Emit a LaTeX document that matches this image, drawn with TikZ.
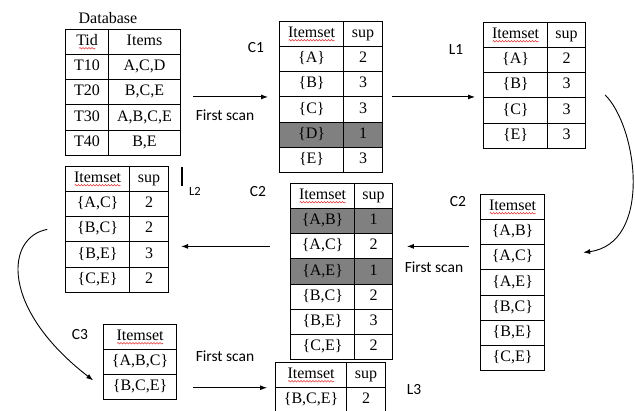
\documentclass[tikz,border=0pt]{standalone}
\usepackage{fontspec}
\setmainfont{Liberation Serif}
\newfontfamily\lblfont{Carlito}
\usetikzlibrary{arrows.meta,matrix,calc,decorations.pathmorphing}
\definecolor{DropGray}{RGB}{128,128,128}
\definecolor{SpellRed}{RGB}{225,45,45}
\newcommand{\tblfont}{\fontsize{16}{18}\selectfont}
\newcommand{\capfont}{\lblfont\fontsize{15.5}{17}\selectfont}

\begin{document}
\begin{tikzpicture}[x=1pt,y=-1pt,>={Latex[length=7pt,width=5pt]},
    tbl/.style={matrix of nodes,inner sep=0pt,row sep=-0.9pt,column sep=-0.9pt,
      anchor=north west,
      nodes={draw,line width=0.9pt,minimum height=25.1pt,inner sep=0pt,
        text height=11pt,text depth=3.8pt,font=\tblfont}},
    cols/.style 2 args={column 1/.style={nodes={minimum width=#1}},
      column 2/.style={nodes={minimum width=#2}}},
    drop/.style={fill=DropGray},
    tag/.style={font=\capfont},
    flow/.style={->,line width=0.9pt},
    spell/.style={draw=SpellRed,line width=0.5pt,decorate,
      decoration={snake,amplitude=0.8pt,segment length=3pt}}]
  \useasboundingbox (0,0) rectangle (635,411);

  % transactions and the first pass
  \node[font=\tblfont] (dblbl) at (108,18) {Database};
  \matrix[tbl,cols={42.9pt}{71.9pt}] (db) at (65,29) {
    Tid & Items \\
    T10 & A,C,D \\
    T20 & B,C,E \\
    T30 & A,B,C,E \\
    T40 & B,E \\
  };
  \node[tag] (c1lbl) at (256,48) {C1};
  \matrix[tbl,cols={63.9pt}{38.9pt}] (c1) at (279,21) {
    Itemset & sup \\
    \{A\} & 2 \\
    \{B\} & 3 \\
    \{C\} & 3 \\
    |[drop]| \{D\} & |[drop]| 1 \\
    \{E\} & 3 \\
  };
  \node[tag] (l1lbl) at (456,50) {L1};
  \matrix[tbl,cols={63.9pt}{37.9pt}] (l1) at (483,22) {
    Itemset & sup \\
    \{A\} & 2 \\
    \{B\} & 3 \\
    \{C\} & 3 \\
    \{E\} & 3 \\
  };

  % pairs
  \node[tag] (c2lbl) at (458,202) {C2};
  \matrix[tbl,cols={63.9pt}{0pt}] (c2) at (480,194) {
    Itemset \\
    \{A,B\} \\
    \{A,C\} \\
    \{A,E\} \\
    \{B,C\} \\
    \{B,E\} \\
    \{C,E\} \\
  };
  \node[tag] (c2suplbl) at (258,192) {C2};
  \matrix[tbl,cols={63.9pt}{37.9pt}] (c2sup) at (290,183) {
    Itemset & sup \\
    |[drop]| \{A,B\} & |[drop]| 1 \\
    \{A,C\} & 2 \\
    |[drop]| \{A,E\} & |[drop]| 1 \\
    \{B,C\} & 2 \\
    \{B,E\} & 3 \\
    \{C,E\} & 2 \\
  };
  \node[font=\lblfont\fontsize{12.5}{14}\selectfont] (l2lbl) at (195,191) {L2};
  \draw[line width=2.4pt] (182,167) -- (182,186);
  \matrix[tbl,cols={63.9pt}{38.9pt}] (l2) at (65,166) {
    Itemset & sup \\
    \{A,C\} & 2 \\
    \{B,C\} & 2 \\
    \{B,E\} & 3 \\
    \{C,E\} & 2 \\
  };

  % triples
  \node[tag] (c3lbl) at (80,335) {C3};
  \matrix[tbl,cols={72.9pt}{0pt}] (c3) at (103,324) {
    Itemset \\
    \{A,B,C\} \\
    \{B,C,E\} \\
  };
  \node[tag] (l3lbl) at (414,390) {L3};
  \matrix[tbl,cols={70.9pt}{38.9pt}] (l3) at (275,362) {
    Itemset & sup \\
    \{B,C,E\} & 2 \\
  };

  % spell-check squiggles under the headers
  \foreach \t in {c1,l1,c2,c2sup,l2,c3,l3}
    \draw[spell] ([xshift=-23pt,yshift=-2.5pt]\t-1-1.base) -- ++(46,0);
  \draw[spell] ([xshift=-8pt,yshift=-2.5pt]db-1-1.base) -- ++(16,0);

  % scans
  \draw[flow] ([xshift=12pt]db.east |- c1.west) -- ([xshift=-11pt]c1.west);
  \node[tag] (scan1) at (225,115) {First scan};
  \draw[flow] ([xshift=9pt]c1.east) -- ([xshift=-8pt]l1.west |- c1.east);
  \draw[flow] ([xshift=19pt,yshift=-9.5pt]l1.east)
    .. controls +(33,33) and +(69,-9) .. ([xshift=38pt,yshift=30pt]c2.east);
  \draw[flow] ([xshift=-11pt]c2.west |- c2sup-3-1.west)
    -- ([xshift=14pt]c2sup-3-2.east);
  \node[tag] (scan2) at (434,267) {First scan};
  \draw[flow] ([xshift=-20pt]c2sup-3-1.west)
    -- ([xshift=12pt]l2.east |- c2sup-3-1.west);
  \draw[flow] ([xshift=-18pt]l2-3-1.west)
    .. controls +(-42,8) and +(-93,-72) .. ([xshift=-10pt,yshift=7pt]c3-3-1.west);
  \draw[flow] ([xshift=16pt]c3.east |- l3.west) -- ([xshift=-8pt]l3.west);
  \node[tag] (scan3) at (225,356) {First scan};
\end{tikzpicture}
\end{document}
